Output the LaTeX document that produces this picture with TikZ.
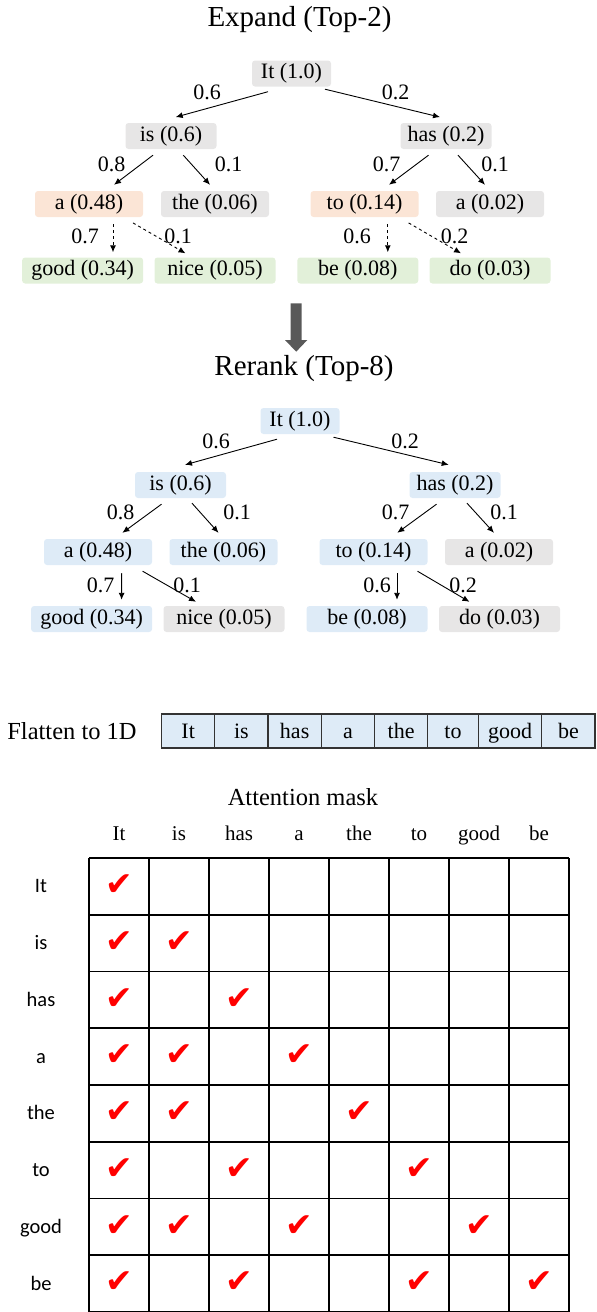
\documentclass[tikz,border=0pt]{standalone}
\usepackage{fontspec}
\setmainfont{Liberation Serif}
\newfontfamily\rowfont{Carlito}
\newfontfamily\tickfont{DejaVu Sans}
\usetikzlibrary{arrows.meta}
\usetikzlibrary{positioning}
\definecolor{tokgray}{HTML}{E7E6E6}
\definecolor{tokorange}{HTML}{FBE5D6}
\definecolor{tokgreen}{HTML}{E2F0D9}
\definecolor{tokblue}{HTML}{DEEBF7}
\definecolor{bigarrow}{HTML}{595959}
\tikzset{
    Node/.style = {rectangle, rounded corners=3pt, align=center, minimum height=26pt, inner sep=0pt, font=\fontsize{22}{24}\selectfont},
    L0/.style = {minimum width=79pt},
    L1/.style = {minimum width=91pt},
    L2/.style = {minimum width=108pt},
    L3/.style = {minimum width=121pt}
}
\tikzset{
    Edge/.style = {draw=black, line width=0.9pt, -{Latex[length=7pt,width=6pt]}},
    Prob/.style = {inner sep=0pt, font=\fontsize{22}{24}\selectfont},
    Title/.style = {inner sep=0pt, font=\fontsize{29}{32}\selectfont}
}

\begin{document}
\begin{tikzpicture}[
    x=1pt, y=-1pt
]
\tikzset{
    Cell/.style = {rectangle, draw=black!80, line width=1.2pt, fill=tokblue, minimum height=34pt, outer sep=0pt, inner sep=0pt, text height=18pt, text depth=2.5pt, font=\fontsize{22}{24}\selectfont},
    Head/.style = {inner sep=0pt, anchor=base, font=\fontsize{21}{24}\selectfont},
    RowLbl/.style = {inner sep=0pt, text height=13pt, text depth=0pt, font=\rowfont\fontsize{20.5}{24}\selectfont},
    Tick/.style = {inner sep=0pt, text=red, font=\tickfont\fontsize{33}{36}\selectfont},
    Grid/.style = {draw=black, line width=1.8pt}
}
\useasboundingbox (0,0) rectangle (597,1312);

% expand
\node[Title] (expand) at (299.5,20) {Expand (Top-2)};
\node[Node, L0, fill=tokgray] (It) at (291.5,73.5) {It (1.0)};
\node[Node, L1, fill=tokgray] (is) at (171,136) {is (0.6)};
\node[Node, L1, fill=tokgray] (has) at (446,136) {has (0.2)};
\node[Node, L2, fill=tokorange] (a) at (89,204) {a (0.48)};
\node[Node, L2, fill=tokgray] (the) at (215,204) {the (0.06)};
\node[Node, L2, fill=tokorange] (to) at (364.6,204) {to (0.14)};
\node[Node, L2, fill=tokgray] (a2) at (490,204) {a (0.02)};
\node[Node, L3, fill=tokgreen] (good) at (82.6,270.5) {good (0.34)};
\node[Node, L3, fill=tokgreen] (nice) at (215,270.5) {nice (0.05)};
\node[Node, L3, fill=tokgreen] (be) at (357.8,270.5) {be (0.08)};
\node[Node, L3, fill=tokgreen] (do) at (490,270.5) {do (0.03)};
\path ([shift={(-23.5,5)}]It.south) edge [Edge] ([shift={(4.7,-5.7)}]is.north);
\path ([shift={(33.5,2.5)}]It.south) edge [Edge] ([shift={(-6,-5.7)}]has.north);
\path ([shift={(-18,6)}]is.south) edge [Edge] ([shift={(25,-6)}]a.north);
\path ([shift={(12.3,6)}]is.south) edge [Edge] ([shift={(-5,-6)}]the.north);
\path ([shift={(-17.5,6)}]has.south) edge [Edge] ([shift={(24.4,-6)}]to.north);
\path ([shift={(12,6)}]has.south) edge [Edge] ([shift={(-5,-6)}]a2.north);
\path ([shift={(24,7)}]a.south) edge [Edge,dashed] ([shift={(30.4,-5)}]good.north);
\path ([shift={(44,5.7)}]a.south) edge [Edge,dashed] ([shift={(-29.5,-4)}]nice.north);
\path ([shift={(23.2,7)}]to.south) edge [Edge,dashed] ([shift={(30,-5)}]be.north);
\path ([shift={(44,5.7)}]to.south) edge [Edge,dashed] ([shift={(-29,-4)}]do.north);
\node[Prob] (p1) at (207,92.5) {0.6};
\node[Prob] (p2) at (395.5,92.5) {0.2};
\node[Prob] (p3) at (111.5,164) {0.8};
\node[Prob] (p4) at (228.5,164) {0.1};
\node[Prob] (p5) at (386.7,164) {0.7};
\node[Prob] (p6) at (495,164) {0.1};
\node[Prob] (p7) at (85,236) {0.7};
\node[Prob] (p8) at (178,236) {0.1};
\node[Prob] (p9) at (357,236) {0.6};
\node[Prob] (p10) at (454.5,236) {0.2};

\fill[bigarrow] (290.7,303.3) -- (301.7,303.3) -- (301.7,340) -- (307.3,340)
    -- (296.2,351.7) -- (285,340) -- (290.7,340) -- cycle;

% rerank
\node[Title] (rerank) at (304,368.5) {Rerank (Top-8)};
\node[Node, L0, fill=tokblue] (RIt) at (300,421) {It (1.0)};
\node[Node, L1, fill=tokblue] (Ris) at (180.5,485) {is (0.6)};
\node[Node, L1, fill=tokblue] (Rhas) at (455,485) {has (0.2)};
\node[Node, L2, fill=tokblue] (Ra) at (98,552) {a (0.48)};
\node[Node, L2, fill=tokblue] (Rthe) at (223.5,552) {the (0.06)};
\node[Node, L2, fill=tokblue] (Rto) at (373.5,552) {to (0.14)};
\node[Node, L2, fill=tokgray] (Ra2) at (499,552) {a (0.02)};
\node[Node, L3, fill=tokblue] (Rgood) at (91.6,619) {good (0.34)};
\node[Node, L3, fill=tokgray] (Rnice) at (224,619) {nice (0.05)};
\node[Node, L3, fill=tokblue] (Rbe) at (367,619) {be (0.08)};
\node[Node, L3, fill=tokgray] (Rdo) at (499.5,619) {do (0.03)};
\path ([shift={(-23,5)}]RIt.south) edge [Edge] ([shift={(4.5,-7)}]Ris.north);
\path ([shift={(33.5,3)}]RIt.south) edge [Edge] ([shift={(-6.3,-7)}]Rhas.north);
\path ([shift={(-19,6)}]Ris.south) edge [Edge] ([shift={(24.4,-6)}]Ra.north);
\path ([shift={(11.5,5)}]Ris.south) edge [Edge] ([shift={(-5,-6)}]Rthe.north);
\path ([shift={(-18.5,6)}]Rhas.south) edge [Edge] ([shift={(23.8,-6)}]Rto.north);
\path ([shift={(12,5)}]Rhas.south) edge [Edge] ([shift={(-5,-6)}]Ra2.north);
\path ([shift={(23.7,8)}]Ra.south) edge [Edge] ([shift={(30,-6)}]Rgood.north);
\path ([shift={(44.6,6)}]Ra.south) edge [Edge] ([shift={(-28,-4)}]Rnice.north);
\path ([shift={(23.5,8)}]Rto.south) edge [Edge] ([shift={(30,-6)}]Rbe.north);
\path ([shift={(44,6)}]Rto.south) edge [Edge] ([shift={(-30,-4)}]Rdo.north);
\node[Prob] (q1) at (216,441) {0.6};
\node[Prob] (q2) at (405,441) {0.2};
\node[Prob] (q3) at (120.5,512) {0.8};
\node[Prob] (q4) at (237,512) {0.1};
\node[Prob] (q5) at (395.5,512) {0.7};
\node[Prob] (q6) at (504,512) {0.1};
\node[Prob] (q7) at (100.7,585) {0.7};
\node[Prob] (q8) at (187,585) {0.1};
\node[Prob] (q9) at (377,585) {0.6};
\node[Prob] (q10) at (463,585) {0.2};

% flatten
\node[inner sep=0pt, font=\fontsize{24.5}{28}\selectfont] (flat) at (72,731) {Flatten to 1D};
\node[Cell, minimum width=53.2pt] (f1) at (188.2,731) {It};
\node[Cell, minimum width=53.2pt, right=0pt of f1] (f2) {is};
\node[Cell, minimum width=53.3pt, right=0pt of f2] (f3) {has};
\node[Cell, minimum width=53.2pt, right=0pt of f3] (f4) {a};
\node[Cell, minimum width=53.3pt, right=0pt of f4] (f5) {the};
\node[Cell, minimum width=50.5pt, right=0pt of f5] (f6) {to};
\node[Cell, minimum width=63.5pt, right=0pt of f6] (f7) {good};
\node[Cell, minimum width=53.2pt, right=0pt of f7] (f8) {be};

% attention mask
\node[inner sep=0pt, font=\fontsize{24.5}{28}\selectfont] (mask) at (303,797) {Attention mask};
\foreach \w [count=\i] in {It,is,has,a,the,to,good,be} {
    \node[Head] (c\i) at (59+60*\i,840) {\w};
    \node[RowLbl] (r\i) at (41,858+56.75*\i-28.4) {\w};
}
\foreach \i in {0,...,8} {
    \draw[Grid] (89+60*\i,858) -- (89+60*\i,1312);
    \draw[Grid] (89,858+56.75*\i) -- (569,858+56.75*\i);
}
\foreach \r/\c in {1/1, 2/1,2/2, 3/1,3/3, 4/1,4/2,4/4, 5/1,5/2,5/5,
    6/1,6/3,6/6, 7/1,7/2,7/4,7/7, 8/1,8/3,8/6,8/8} {
    \node[Tick] (t\r\c) at (59+60*\c,858+56.75*\r-29.5) {✔};
}
\end{tikzpicture}
\end{document}
